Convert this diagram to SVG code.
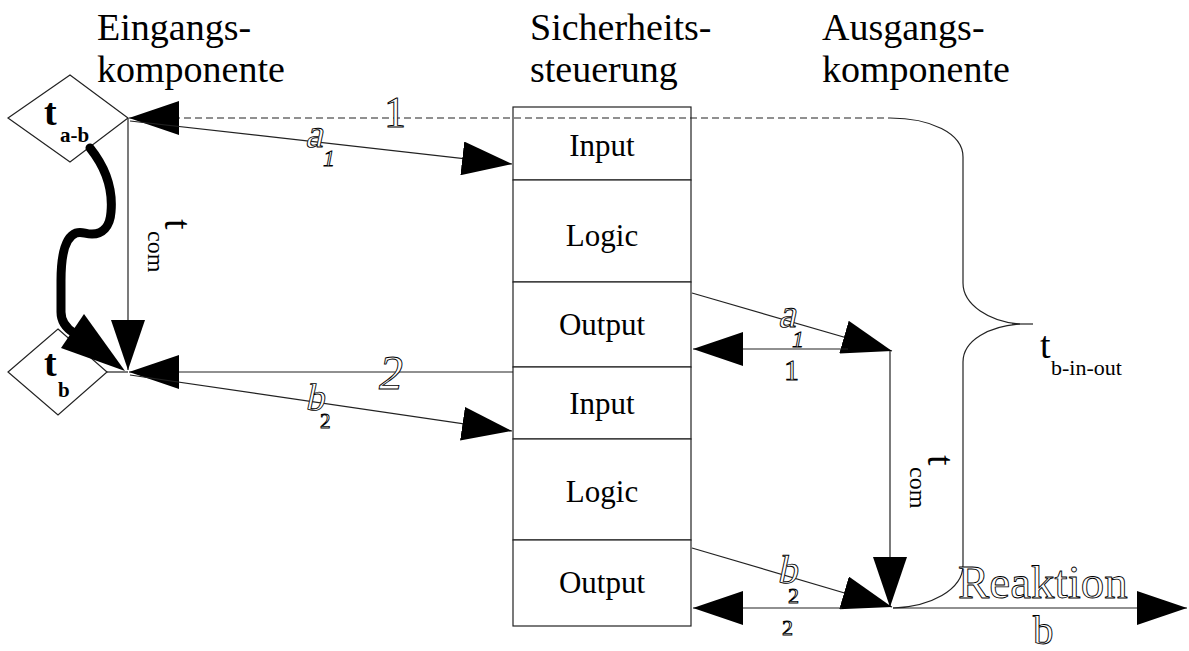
<svg xmlns="http://www.w3.org/2000/svg" width="1189" height="651" viewBox="0 0 1189 651">
  <style>
    .hdr { font-family: "Liberation Serif", "Times New Roman", serif; font-size: 38px; fill: #000; }
    .box { fill: #fff; stroke: #222; stroke-width: 1.2; }
    .cell { font-family: "Liberation Serif", "Times New Roman", serif; font-size: 31px; fill: #000; text-anchor: middle; }
    .ln { fill: none; stroke: #222; stroke-width: 1.2; }
    .dash { stroke-dasharray: 7 4; }
    .dia { fill: #fff; stroke: #222; stroke-width: 1.2; }
    .tb { font-family: "Liberation Serif", "Times New Roman", serif; font-weight: bold; fill: #000; }
    .tr { font-family: "Liberation Serif", "Times New Roman", serif; fill: #000; }
    .ol { font-family: "Liberation Serif", "Times New Roman", serif; fill: #fff; stroke: #000; stroke-width: 0.9; }
  </style>
  <defs>
    <marker id="ah" markerUnits="userSpaceOnUse" markerWidth="50" markerHeight="34" viewBox="0 0 50 34" refX="50" refY="17" orient="auto-start-reverse">
      <path d="M0 0 L50 17 L0 34 Z" fill="#000"/>
    </marker>
  </defs>

  <rect width="1189" height="651" fill="#fff"/>

  <!-- column headings -->
  <g id="headings">
    <text class="hdr" x="97" y="40">Eingangs-</text>
    <text class="hdr" x="97" y="82">komponente</text>
    <text class="hdr" x="530" y="40">Sicherheits-</text>
    <text class="hdr" x="530" y="82">steuerung</text>
    <text class="hdr" x="822" y="40">Ausgangs-</text>
    <text class="hdr" x="822" y="82">komponente</text>
  </g>

  <!-- safety controller stack -->
  <g id="controller">
    <rect class="box" x="513" y="107" width="178" height="73"/>
    <rect class="box" x="513" y="180" width="178" height="102"/>
    <rect class="box" x="513" y="282" width="178" height="85"/>
    <rect class="box" x="513" y="367" width="178" height="72"/>
    <rect class="box" x="513" y="439" width="178" height="101"/>
    <rect class="box" x="513" y="540" width="178" height="86"/>
    <text class="cell" x="602" y="156">Input</text>
    <text class="cell" x="602" y="246">Logic</text>
    <text class="cell" x="602" y="335">Output</text>
    <text class="cell" x="602" y="414">Input</text>
    <text class="cell" x="602" y="502">Logic</text>
    <text class="cell" x="602" y="593">Output</text>
  </g>

  <!-- input component events -->
  <g id="node-tab">
    <polygon class="dia" points="70,75 128,118 70,162 8,118"/>
    <text class="tb" x="44" y="125" font-size="38">t</text>
    <text class="tb" x="60" y="142" font-size="21">a-b</text>
  </g>
  <g id="node-tb">
    <polygon class="dia" points="58,329 107,372 58,415 8,372"/>
    <text class="tb" x="44" y="376" font-size="38">t</text>
    <text class="tb" x="58" y="397" font-size="21">b</text>
  </g>

  <!-- connectors -->
  <g id="connectors">
    <path class="ln dash" d="M129 118 L890 118" marker-start="url(#ah)"/>
    <path class="ln" d="M130 121 L512 164" marker-end="url(#ah)"/>
    <path class="ln" d="M128 118 L128 370" marker-end="url(#ah)"/>
    <path class="ln" d="M107 372 L128 372"/>
    <path class="ln" d="M129 372 L513 372" marker-start="url(#ah)"/>
    <path class="ln" d="M130 375 L512 431" marker-end="url(#ah)"/>
    <path class="ln" d="M692 293 L892 351" marker-end="url(#ah)"/>
    <path class="ln" d="M693 349 L848 349" marker-start="url(#ah)"/>
    <path class="ln" d="M890 351 L890 607" marker-end="url(#ah)"/>
    <path class="ln" d="M692 548 L892 607" marker-end="url(#ah)"/>
    <path class="ln" d="M693 608 L842 608" marker-start="url(#ah)"/>
    <path class="ln" d="M893 608 L1187 608" marker-end="url(#ah)"/>
    <!-- thick wavy path from t_a-b to t_b -->
    <path d="M90 148 C106 168 113 190 111 212 C110 227 102 234 92 234 C85 234 82 231 76 233 C65 237 61 256 61 281 L61 312 C61 322 66 328 74 333" fill="none" stroke="#000" stroke-width="9" stroke-linecap="round"/>
    <polygon points="84,314 61,348 125,371" fill="#000"/>
    <!-- brace spanning the overall reaction time -->
    <path class="ln" d="M890 118 C930 118 963 133 963 157 L963 283 C963 305 990 322 1020 324 C990 326 963 340 963 362 L963 565 C963 590 930 607 893 608"/>
    <path class="ln" d="M1012 324 L1033 324" stroke-width="1.6"/>
  </g>

  <!-- connector labels -->
  <g id="labels">
    <text class="ol" x="384" y="127" font-size="44">1</text>
    <text class="ol" x="0" y="0" font-size="40" transform="translate(305,147) skewX(-12)">a</text>
    <text class="ol" x="323" y="166" font-size="24" font-style="italic">1</text>
    <text class="ol" x="379" y="389" font-size="48" font-style="italic">2</text>
    <text class="ol" x="0" y="0" font-size="38" transform="translate(305,410) skewX(-12)">b</text>
    <text class="ol" x="320" y="428" font-size="21" stroke-width="1.4">2</text>
    <text class="ol" x="0" y="0" font-size="40" transform="translate(778,327) skewX(-12)">a</text>
    <text class="ol" x="792" y="347" font-size="24" font-style="italic">1</text>
    <text class="ol" x="784" y="380" font-size="30">1</text>
    <text class="ol" x="0" y="0" font-size="40" transform="translate(777,583) skewX(-12)">b</text>
    <text class="ol" x="788" y="603" font-size="22" stroke-width="1.4">2</text>
    <text class="ol" x="782" y="635" font-size="22" stroke-width="1.4">2</text>
    <text class="ol" x="958" y="598" font-size="47">Reaktion</text>
    <text class="ol" x="1033" y="644" font-size="41">b</text>
    <g transform="translate(165,219) rotate(90)">
      <text class="tr" x="0" y="0" font-size="38">t</text>
      <text class="tr" x="12" y="17" font-size="24">com</text>
    </g>
    <g transform="translate(928,455) rotate(90)">
      <text class="tr" x="0" y="0" font-size="38">t</text>
      <text class="tr" x="12" y="18" font-size="24">com</text>
    </g>
    <text class="tr" x="1040" y="358" font-size="38">t</text>
    <text class="tr" x="1051" y="375" font-size="22">b-in-out</text>
  </g>
</svg>
